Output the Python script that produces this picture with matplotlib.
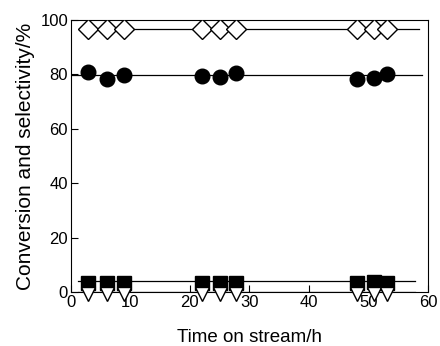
import numpy as np
import matplotlib
matplotlib.use('Agg')
import matplotlib.pyplot as plt

plt.rcParams['font.family'] = ['Liberation Sans', 'DejaVu Sans']

# time on stream (h)
t = [2.9, 6.0, 8.9, 22.0, 25.0, 27.8, 48.0, 50.9, 53.1]
# selectivity / conversion values (%)
diamond = [96.7, 96.7, 96.7, 96.7, 96.7, 96.7, 96.7, 96.7, 96.7]
circle = [81.0, 78.2, 79.8, 79.4, 79.2, 80.7, 78.2, 78.6, 80.1]
square = [3.5, 3.5, 3.5, 3.5, 3.5, 3.5, 3.5, 3.6, 3.5]
triangle = [-0.9, -0.9, -0.9, -0.9, -0.9, -0.9, -0.9, -0.9, -0.9]

# horizontal guide lines (start, end, level)
guide_x = {'diamond': [2, 58.5], 'circle': [0, 59], 'square': [1.2, 57.8], 'triangle': [1.2, 57.8]}
guide_y = {'diamond': 96.7, 'circle': 79.8, 'square': 3.9, 'triangle': 0.0}

fig = plt.figure(figsize=(4.4, 3.46), dpi=100)
ax = fig.add_axes([0.161, 0.156, 0.812, 0.786])

for k in guide_x:
    ax.plot(guide_x[k], [guide_y[k]] * 2, color='black', lw=0.9, zorder=1)

ax.plot(t, diamond, 'D', ms=10, mfc='white', mec='black', mew=1.0, zorder=3)
ax.plot(t, circle, 'o', ms=10.5, mfc='black', mec='black', zorder=3)
ax.plot(t, square, 's', ms=9.6, mfc='black', mec='black', zorder=3)
ax.plot(t, triangle, 'v', ms=9.4, mfc='white', mec='black', mew=1.0, zorder=4, clip_on=False)

ax.set_xlim(0, 60)
ax.set_ylim(0, 100)
ax.set_xticks(np.arange(0, 61, 10))
ax.set_yticks(np.arange(0, 101, 20))
ax.tick_params(direction='in', length=5, labelsize=12, pad=2)
ax.set_xlabel('Time on stream/h', fontsize=13.5, labelpad=14)
ax.set_ylabel('Conversion and selectivity/%', fontsize=15, labelpad=4)

fig.savefig('out.png', dpi=100)
